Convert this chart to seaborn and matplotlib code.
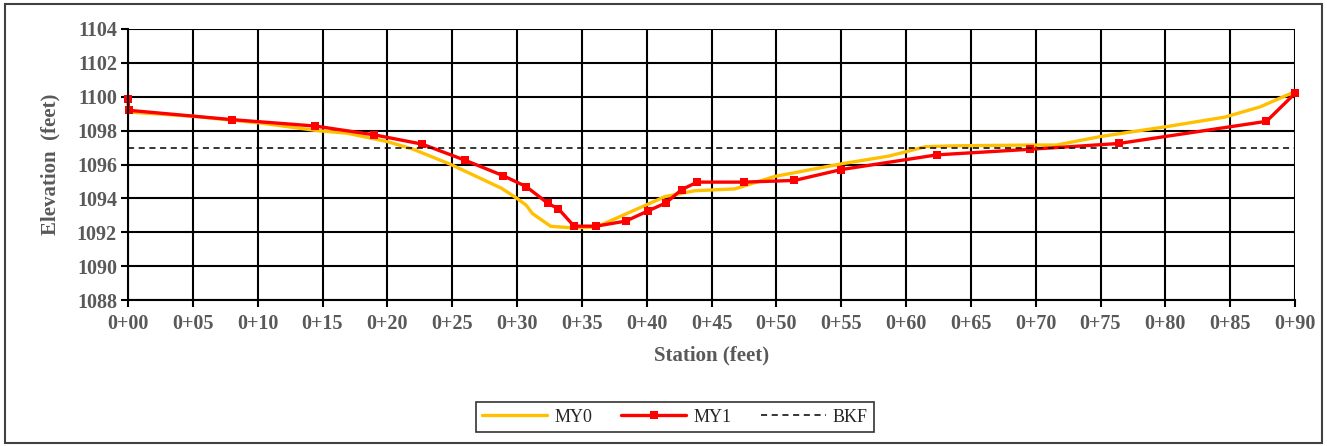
import matplotlib.pyplot as plt
import matplotlib.patches as patches
import pandas as pd
import seaborn as sns

# MY0 survey (station ft, elevation ft)
my0_station = [0.0, 5.0, 10.2, 14.6, 16.9, 20.0, 22.0, 24.9, 28.8, 30.0, 30.7, 31.2,
               32.6, 34.3, 36.1, 41.4, 43.7, 46.8, 49.9, 55.1, 58.7, 61.5, 63.6,
               69.8, 71.6, 75.0, 80.2, 84.6, 87.3, 90.0]
my0_elev = [1099.1, 1098.85, 1098.45, 1098.0, 1097.85, 1097.35, 1096.9, 1096.0, 1094.6,
            1094.0, 1093.6, 1093.1, 1092.35, 1092.26, 1092.3, 1094.1, 1094.45, 1094.56,
            1095.3, 1096.05, 1096.5, 1097.05, 1097.1, 1097.15, 1097.15, 1097.65,
            1098.25, 1098.8, 1099.4, 1100.3]

# MY1 survey
my1_station = [0.0, 0.05, 8.0, 14.45, 19.0, 22.7, 26.0, 28.9, 30.7, 32.4, 33.2, 34.4,
               36.1, 38.4, 40.1, 41.5, 42.7, 43.9, 47.5, 51.4, 55.0, 62.4, 69.6, 76.4,
               87.8, 90.0]
my1_elev = [1099.85, 1099.2, 1098.65, 1098.27, 1097.75, 1097.2, 1096.25, 1095.35, 1094.7,
            1093.7, 1093.38, 1092.36, 1092.36, 1092.66, 1093.26, 1093.74, 1094.52,
            1094.96, 1094.96, 1095.06, 1095.7, 1096.57, 1096.9, 1097.24, 1098.55, 1100.2]

# bankfull elevation
bkf_station = [0, 90]
bkf_elev = [1097.0, 1097.0]

x_ticks = list(range(0, 91, 5))
x_labels = ['0+%02d' % t for t in x_ticks]
y_ticks = list(range(1088, 1105, 2))

df0 = pd.DataFrame({'station': my0_station, 'elev': my0_elev})
df1 = pd.DataFrame({'station': my1_station, 'elev': my1_elev})
dfb = pd.DataFrame({'station': bkf_station, 'elev': bkf_elev})

sns.set_style('white')
plt.rcParams['font.family'] = ['Liberation Serif', 'DejaVu Serif']

fig = plt.figure(figsize=(13.27, 4.46), dpi=100)
ax = fig.add_axes([128 / 1327, 1 - 300 / 446, 1167 / 1327, 271 / 446])

sns.lineplot(data=df0, x='station', y='elev', ax=ax, color='#FFC000', lw=2.4,
             sort=False, estimator=None, label='MY0', clip_on=False)
sns.lineplot(data=df1, x='station', y='elev', ax=ax, color='#FF0000', lw=2.4,
             marker='s', markersize=5.5, markeredgewidth=0, sort=False,
             estimator=None, label='MY1', clip_on=False)
sns.lineplot(data=dfb, x='station', y='elev', ax=ax, color='black', lw=1.1,
             linestyle=(0, (4, 3)), sort=False, estimator=None, label='BKF')

ax.set_xlim(0, 90)
ax.set_ylim(1088, 1104)
ax.set_xticks(x_ticks)
ax.set_xticklabels(x_labels)
ax.set_yticks(y_ticks)
ax.grid(True, color='black', lw=1.5)
ax.set_axisbelow(True)
for s in ax.spines.values():
    s.set_visible(False)
ax.spines['left'].set_visible(True)
ax.spines['bottom'].set_visible(True)
ax.spines['left'].set_color('black')
ax.spines['bottom'].set_color('black')
ax.spines['left'].set_linewidth(1.5)
ax.spines['bottom'].set_linewidth(1.5)
ax.tick_params(axis='both', direction='out', length=5, width=1.5, color='black',
               labelcolor='#595959', labelsize=14.5, pad=4)
ax.tick_params(axis='x', bottom=True, pad=5)
ax.tick_params(axis='y', left=True, pad=3)
for lab in ax.get_xticklabels() + ax.get_yticklabels():
    lab.set_fontweight('bold')

ax.set_xlabel('Station (feet)', fontsize=15, fontweight='bold', color='#595959', labelpad=8)
ax.set_ylabel('Elevation  (feet)', fontsize=15, fontweight='bold', color='#595959', labelpad=12)

leg = ax.legend(loc='center', bbox_to_anchor=(675 / 1327, 1 - 417 / 446),
                bbox_transform=fig.transFigure, ncol=3, frameon=True, fancybox=False,
                edgecolor='black', fontsize=13, handlelength=3.6, columnspacing=1.6,
                borderpad=0.35, handletextpad=0.4)
leg.get_frame().set_linewidth(1.2)

# chart area border
fig.patches.append(patches.Rectangle((5 / 1327, 3 / 446), 1317 / 1327, 439 / 446,
                                     transform=fig.transFigure, fill=False,
                                     edgecolor='#404040', lw=1.5))

fig.savefig('out.png', dpi=100)
